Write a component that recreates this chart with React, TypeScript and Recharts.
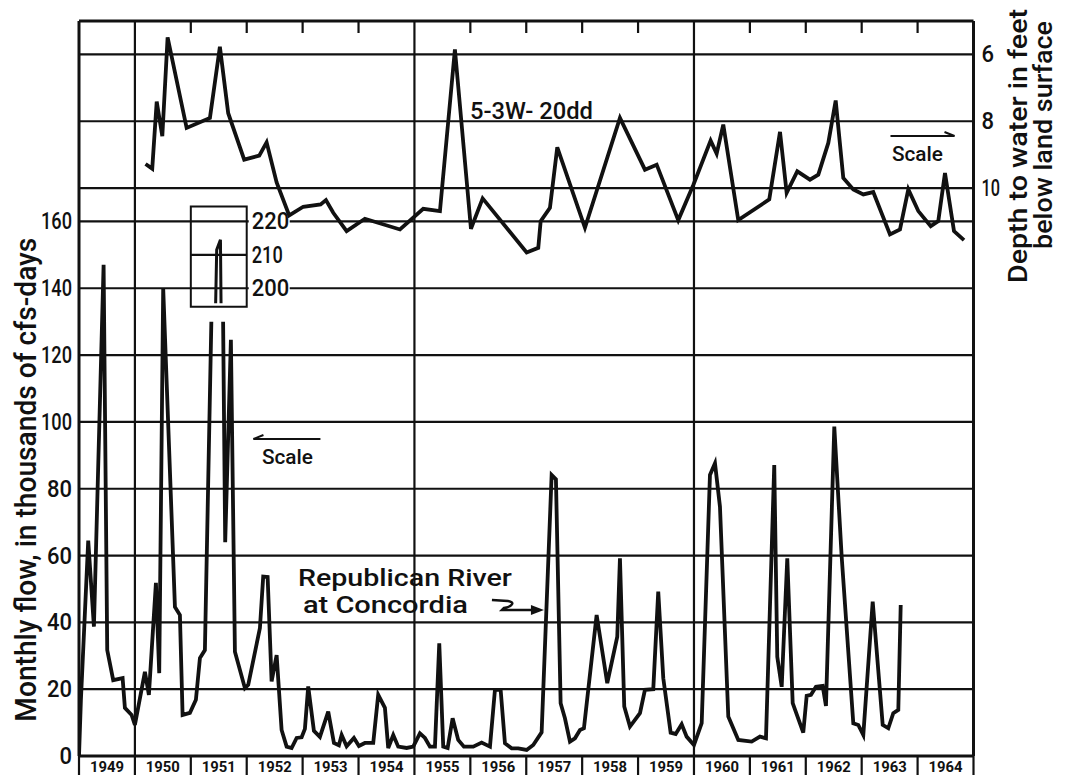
import React from 'react';
import { LineChart, Line, XAxis, YAxis, ReferenceLine, ReferenceArea, ReferenceDot } from 'recharts';

const FONT = 'Roboto, "Liberation Sans", Arial, sans-serif';
const INK = '#111111';

// Republican River at Concordia — monthly flow, thousands of cfs-days (time as decimal year)
const FLOW_T = [
  1949.0, 1949.034, 1949.165, 1949.267, 1949.44, 1949.505, 1949.612, 1949.78, 1949.821, 1949.941,
  1950.0, 1950.179, 1950.25, 1950.376, 1950.435, 1950.506, 1950.716, 1950.805, 1950.853, 1950.984,
  1951.091, 1951.163, 1951.252, 1951.463, 1951.53, 1951.615, 1951.717, 1951.789, 1951.968,
  1952.027, 1952.236, 1952.295, 1952.374, 1952.445, 1952.535, 1952.624, 1952.714, 1952.803, 1952.893, 1952.982,
  1953.041, 1953.1, 1953.202, 1953.309, 1953.458, 1953.56, 1953.649, 1953.698, 1953.787, 1953.918,
  1954.007, 1954.114, 1954.263, 1954.352, 1954.472, 1954.531, 1954.621, 1954.71, 1954.861, 1954.979,
  1955.098, 1955.188, 1955.277, 1955.367, 1955.444, 1955.515, 1955.594, 1955.683, 1955.783, 1955.885,
  1956.052, 1956.202, 1956.351, 1956.44, 1956.542, 1956.619, 1956.739, 1956.857,
  1957.007, 1957.125, 1957.275, 1957.454, 1957.531, 1957.615, 1957.692, 1957.782, 1957.871, 1957.961,
  1958.032, 1958.259, 1958.449, 1958.628, 1958.676, 1958.753, 1958.855,
  1959.034, 1959.123, 1959.272, 1959.361, 1959.451, 1959.583, 1959.673, 1959.78, 1959.869,
  1960.0, 1960.138, 1960.286, 1960.376, 1960.465, 1960.614, 1960.793,
  1961.032, 1961.181, 1961.288, 1961.436, 1961.49, 1961.569, 1961.669, 1961.766, 1961.955,
  1962.016, 1962.093, 1962.182, 1962.302, 1962.361, 1962.51, 1962.642, 1962.85, 1962.939,
  1963.029, 1963.197, 1963.376, 1963.476, 1963.565, 1963.655, 1963.698,
];
const FLOW_V = [
  0, 16.8, 64.5, 38.7, 147, 31.7, 22.7, 23.3, 14.4, 12.3,
  9.3, 25.2, 18.3, 51.8, 24.8, 140, 44.6, 42.2, 12.3, 12.9,
  16.8, 29.3, 31.7, 211.5, 214.5, 64, 124.6, 31.2, 20.3,
  21.3, 38.3, 53.7, 53.6, 22.3, 30.2, 7.8, 2.8, 2.4, 5.4, 5.6,
  8.1, 20.8, 7.5, 5.7, 13.3, 3.9, 3.2, 6.3, 2.9, 5.4,
  3.0, 3.9, 3.9, 18.3, 14.4, 2.4, 6.3, 2.8, 2.4, 2.8,
  6.8, 5.4, 2.8, 2.8, 33.7, 2.8, 2.4, 11.3, 4.8, 2.8,
  2.8, 4.0, 2.8, 19.8, 19.8, 3.8, 2.3, 2.3,
  1.8, 3.3, 7.1, 84.1, 82.8, 15.8, 11.3, 4.3, 5.3, 7.8,
  8.3, 42.2, 21.8, 35.7, 59.2, 14.8, 8.8,
  12.8, 19.8, 20.0, 49.2, 23.3, 7.0, 6.6, 9.5, 5.8,
  3.3, 9.8, 84.1, 87.6, 74.6, 11.8, 4.8,
  4.3, 5.8, 5.3, 87.1, 29.7, 20.7, 59.2, 15.8, 7.0,
  18.0, 18.3, 20.7, 21.0, 15.0, 98.6, 59.7, 9.8, 9.3,
  6.3, 46.2, 9.3, 8.3, 12.8, 13.8, 45.2,
];

// Well 5-3W-20dd — depth to water, feet below land surface
const WELL_T = [
  1950.19, 1950.31, 1950.39, 1950.49, 1950.585, 1950.925, 1951.342, 1951.52, 1951.669, 1951.955,
  1952.224, 1952.356, 1952.535, 1952.76, 1953.011, 1953.322, 1953.417, 1953.548, 1953.787,
  1954.114, 1954.741, 1955.157, 1955.456, 1955.724, 1956.011, 1956.22,
  1957.007, 1957.215, 1957.258, 1957.424, 1957.555, 1958.05, 1958.676,
  1959.123, 1959.333, 1959.719, 1959.99, 1960.298, 1960.406, 1960.524, 1960.792,
  1961.347, 1961.539, 1961.658, 1961.848, 1962.075, 1962.224, 1962.403, 1962.535, 1962.671, 1962.85,
  1963.029, 1963.207, 1963.506, 1963.685, 1963.834, 1964.013, 1964.235, 1964.37, 1964.49, 1964.651, 1964.83,
];
const WELL_D = [
  9.28, 9.42, 7.41, 8.45, 5.49, 8.2, 7.9, 5.77, 7.76, 9.15,
  9.03, 8.63, 9.83, 10.82, 10.56, 10.49, 10.36, 10.74, 11.29,
  10.92, 11.24, 10.62, 10.69, 5.85, 11.22, 10.31,
  11.93, 11.79, 10.99, 10.59, 8.78, 11.19, 7.9,
  9.45, 9.3, 10.96, 9.9, 8.58, 8.97, 8.1, 10.96,
  10.34, 8.32, 10.14, 9.5, 9.75, 9.6, 8.65, 7.38, 9.7, 10.04,
  10.19, 10.12, 11.39, 11.24, 10.04, 10.69, 11.14, 10.99, 9.55, 11.29, 11.56,
];

const YEARS = [1949, 1950, 1951, 1952, 1953, 1954, 1955, 1956, 1957, 1958, 1959, 1960, 1961, 1962, 1963, 1964];
const MAJOR_YEARS = [1950, 1955, 1960];
const FLOW_TICKS = [0, 20, 40, 60, 80, 100, 120, 140, 160];
const DEPTH_TICKS = [6, 8, 10];
const INSET_TICKS = [220, 210, 200];

// broken-scale inset for the 1951 flood peak
const INSET_OFFSET = 60; // inset value 220 sits on main 160
const INSET_BOX = [194.5, 224.5];
const INSET_FLOOR = 195.5;
const MAIN_CAP = 130;
const BREAK = 165;

type Row = { t: number; v: number | null };

function buildFlow() {
  const main: Row[] = [];
  const inset: Row[] = [];
  for (let i = 0; i < FLOW_T.length; i++) {
    const t = FLOW_T[i];
    const v = FLOW_V[i];
    const high = v > BREAK;
    if (i > 0) {
      const pt = FLOW_T[i - 1];
      const pv = FLOW_V[i - 1];
      const pHigh = pv > BREAK;
      if (pHigh !== high) {
        const at = (lvl: number) => pt + ((lvl - pv) / (v - pv)) * (t - pt);
        if (!pHigh) {
          main.push({ t: at(MAIN_CAP), v: MAIN_CAP });
          inset.push({ t: at(INSET_FLOOR), v: INSET_FLOOR - INSET_OFFSET });
        } else {
          inset.push({ t: at(INSET_FLOOR), v: INSET_FLOOR - INSET_OFFSET });
          main.push({ t: at(MAIN_CAP), v: MAIN_CAP });
        }
      }
    }
    if (high) {
      main.push({ t, v: null });
      inset.push({ t, v: v - INSET_OFFSET });
    } else {
      main.push({ t, v });
    }
  }
  return { main, inset };
}

const FLOW = buildFlow();
const WELL = WELL_T.map((t, i) => ({ t, d: WELL_D[i] }));

const X_TICKS: number[] = [...YEARS, 1965, ...YEARS.map((y) => y + 0.5)].sort((a, b) => a - b);

// lettering: narrow "1", normal other digits
const numWidth = (s: string) => s.split('').reduce((a, c) => a + (c === '1' ? 6 : 12.5), 0);

const NumText = ({ x, y, s, anchor }: { x: number; y: number; s: string; anchor: 'start' | 'end' }) => (
  <text
    x={x}
    y={y}
    textAnchor={anchor}
    dominantBaseline="central"
    fontFamily={FONT}
    fontWeight={500}
    fontSize={24}
    fill={INK}
    textLength={numWidth(s)}
    lengthAdjust="spacingAndGlyphs"
  >
    {s}
  </text>
);

const FlowTick = (props: any) => <NumText x={props.x + 1} y={props.y} s={String(props.payload.value)} anchor="end" />;
const DepthTick = (props: any) => <NumText x={props.x} y={props.y} s={String(props.payload.value)} anchor="start" />;

const YearTick = (props: any) => {
  const { x, y, payload } = props;
  const val = payload.value as number;
  if (Number.isInteger(val)) {
    return <line x1={x} x2={x} y1={y} y2={y + 26} stroke={INK} strokeWidth={2.2} />;
  }
  return (
    <text x={x} y={y + 10.5} textAnchor="middle" dominantBaseline="central" fontFamily={FONT} fontSize={15.5} fontWeight={700} fill={INK} textLength={34} lengthAdjust="spacingAndGlyphs">
      {String(Math.floor(val))}
    </text>
  );
};

const LeftTitle = (props: any) => {
  const vb = props.viewBox || { x: 0, y: 21, width: 79, height: 735 };
  const x = vb.x + 36;
  const y = vb.y + vb.height * 0.624;
  return (
    <text transform={`rotate(-90 ${x} ${y})`} x={x} y={y} textAnchor="middle" fontFamily={FONT} fontWeight={500} fontSize={30} fill={INK} textLength={484} lengthAdjust="spacingAndGlyphs">
      Monthly flow, in thousands of cfs-days
    </text>
  );
};

const RightTitle = (props: any) => {
  const vb = props.viewBox || { x: 973.5, y: 21, width: 93.5, height: 735 };
  const x1 = vb.x + 53;
  const x2 = vb.x + 78.5;
  const y1 = 146;
  const y2 = 135;
  return (
    <g>
      <text transform={`rotate(-90 ${x1} ${y1})`} x={x1} y={y1} textAnchor="middle" fontFamily={FONT} fontWeight={500} fontSize={25} fill={INK} textLength={274} lengthAdjust="spacingAndGlyphs">
        Depth to water in feet
      </text>
      <text transform={`rotate(-90 ${x2} ${y2})`} x={x2} y={y2} textAnchor="middle" fontFamily={FONT} fontWeight={500} fontSize={25} fill={INK} textLength={228} lengthAdjust="spacingAndGlyphs">
        below land surface
      </text>
    </g>
  );
};

const WellLabel = (p: any) => (
  <text x={p.cx} y={p.cy} dominantBaseline="central" fontFamily={FONT} fontWeight={500} fontSize={23} fill={INK} textLength={123} lengthAdjust="spacingAndGlyphs">
    5-3W- 20dd
  </text>
);

const ScaleRight = (p: any) => (
  <g>
    <line x1={p.cx - 27} x2={p.cx + 37} y1={p.cy - 18} y2={p.cy - 18} stroke={INK} strokeWidth={2} />
    <line x1={p.cx + 37} x2={p.cx + 27} y1={p.cy - 18} y2={p.cy - 22} stroke={INK} strokeWidth={2} />
    <text x={p.cx} y={p.cy} textAnchor="middle" dominantBaseline="central" fontFamily={FONT} fontWeight={500} fontSize={21} fill={INK} textLength={51} lengthAdjust="spacingAndGlyphs">
      Scale
    </text>
  </g>
);

const ScaleLeft = (p: any) => (
  <g>
    <line x1={p.cx - 34} x2={p.cx + 33} y1={p.cy - 18} y2={p.cy - 18} stroke={INK} strokeWidth={2} />
    <line x1={p.cx - 34} x2={p.cx - 24} y1={p.cy - 18} y2={p.cy - 22} stroke={INK} strokeWidth={2} />
    <text x={p.cx} y={p.cy} textAnchor="middle" dominantBaseline="central" fontFamily={FONT} fontWeight={500} fontSize={21} fill={INK} textLength={51} lengthAdjust="spacingAndGlyphs">
      Scale
    </text>
  </g>
);

const RiverLabel = (p: any) => (
  <g>
    <text x={p.cx} y={p.cy} dominantBaseline="central" fontFamily={FONT} fontWeight={500} fontSize={24} fill={INK} textLength={214} lengthAdjust="spacingAndGlyphs">
      Republican River
    </text>
    <text x={p.cx + 5} y={p.cy + 27} dominantBaseline="central" fontFamily={FONT} fontWeight={500} fontSize={24} fill={INK} textLength={165} lengthAdjust="spacingAndGlyphs">
      at Concordia
    </text>
    <path
      d={`M${p.cx + 194},${p.cy + 22} L${p.cx + 210},${p.cy + 23} C${p.cx + 218},${p.cy + 24} ${p.cx + 214},${p.cy + 29} ${p.cx + 206},${p.cy + 30} L${p.cx + 204},${p.cy + 32} L${p.cx + 236},${p.cy + 32}`}
      fill="none"
      stroke={INK}
      strokeWidth={2.5}
    />
    <path d={`M${p.cx + 246},${p.cy + 32} L${p.cx + 233},${p.cy + 27} L${p.cx + 233},${p.cy + 37} Z`} fill={INK} />
  </g>
);

const insetTickLabel = (txt: string, mask: boolean) => (p: any) => (
  <g>
    {mask && <rect x={p.cx + 2} y={p.cy - 3} width={41} height={6} fill="#ffffff" />}
    <NumText x={p.cx + 5} y={p.cy} s={txt} anchor="start" />
  </g>
);

export default function App() {
  const grid = { stroke: INK, strokeWidth: 2.2 };
  return (
    <div style={{ position: 'absolute', left: 0, top: 0, width: 1067, height: 775, background: '#fff' }}>
      <LineChart width={1067} height={775} margin={{ top: 21, right: 0, bottom: 0, left: 0 }}>
        <XAxis
          xAxisId="t"
          dataKey="t"
          type="number"
          domain={[1949, 1965]}
          allowDataOverflow
          ticks={X_TICKS}
          interval={0}
          tickLine={false}
          tickSize={0}
          tickMargin={0}
          height={19}
          axisLine={{ stroke: INK, strokeWidth: 3 }}
          tick={(props: any) => <YearTick {...props} />}
        />
        <YAxis
          yAxisId="flow"
          type="number"
          domain={[0, 220]}
          allowDataOverflow
          ticks={FLOW_TICKS}
          interval={0}
          width={79}
          tickLine={false}
          axisLine={{ stroke: INK, strokeWidth: 3 }}
          tick={(props: any) => <FlowTick {...props} />}
          label={<LeftTitle />}
        />
        <YAxis
          yAxisId="depth"
          orientation="right"
          type="number"
          domain={[5, 27]}
          reversed
          allowDataOverflow
          ticks={DEPTH_TICKS}
          interval={0}
          width={93.5}
          tickLine={false}
          axisLine={{ stroke: INK, strokeWidth: 3 }}
          tick={(props: any) => <DepthTick {...props} />}
          label={<RightTitle />}
        />

        {FLOW_TICKS.filter((v) => v > 0).map((v) => (
          <ReferenceLine key={`fg${v}`} xAxisId="t" yAxisId="flow" y={v} {...grid} />
        ))}
        {DEPTH_TICKS.map((d) => (
          <ReferenceLine key={`dg${d}`} xAxisId="t" yAxisId="depth" y={d} {...grid} />
        ))}
        <ReferenceLine xAxisId="t" yAxisId="flow" y={220} stroke={INK} strokeWidth={3} />
        {MAJOR_YEARS.map((y) => (
          <ReferenceLine key={`mj${y}`} xAxisId="t" yAxisId="flow" x={y} {...grid} />
        ))}
        {YEARS.filter((y) => y > 1949 && !MAJOR_YEARS.includes(y)).map((y) => (
          <ReferenceLine
            key={`tk${y}`}
            xAxisId="t"
            yAxisId="flow"
            segment={[{ x: y, y: 220 }, { x: y, y: 216.4 }]}
            {...grid}
          />
        ))}

        <ReferenceArea
          xAxisId="t"
          yAxisId="flow"
          x1={1951}
          x2={1952}
          y1={INSET_BOX[0] - INSET_OFFSET}
          y2={INSET_BOX[1] - INSET_OFFSET}
          fill="none"
          fillOpacity={0}
          stroke={INK}
          strokeWidth={2}
        />
        <ReferenceLine
          xAxisId="t"
          yAxisId="flow"
          segment={[{ x: 1951, y: 210 - INSET_OFFSET }, { x: 1952, y: 210 - INSET_OFFSET }]}
          {...grid}
        />

        <Line
          xAxisId="t"
          yAxisId="flow"
          data={FLOW.main}
          dataKey="v"
          type="linear"
          stroke={INK}
          strokeWidth={3.8}
          dot={false}
          connectNulls={false}
          isAnimationActive={false}
        />
        <Line
          xAxisId="t"
          yAxisId="flow"
          data={FLOW.inset}
          dataKey="v"
          type="linear"
          stroke={INK}
          strokeWidth={3}
          dot={false}
          connectNulls={false}
          isAnimationActive={false}
        />
        <Line
          xAxisId="t"
          yAxisId="depth"
          data={WELL}
          dataKey="d"
          type="linear"
          stroke={INK}
          strokeWidth={3.8}
          dot={false}
          isAnimationActive={false}
        />

        {INSET_TICKS.map((v) => (
          <ReferenceDot
            key={`il${v}`}
            xAxisId="t"
            yAxisId="flow"
            x={1952}
            y={v - INSET_OFFSET}
            r={0}
            shape={insetTickLabel(String(v), v !== 210)}
          />
        ))}
        <ReferenceDot xAxisId="t" yAxisId="flow" x={1955.993} y={192.8} r={0} shape={WellLabel} />
        <ReferenceDot xAxisId="t" yAxisId="flow" x={1963.998} y={180.2} r={0} shape={ScaleRight} />
        <ReferenceDot xAxisId="t" yAxisId="flow" x={1952.728} y={89.5} r={0} shape={ScaleLeft} />
        <ReferenceDot xAxisId="t" yAxisId="flow" x={1952.916} y={53.3} r={0} shape={RiverLabel} />
      </LineChart>
    </div>
  );
}
